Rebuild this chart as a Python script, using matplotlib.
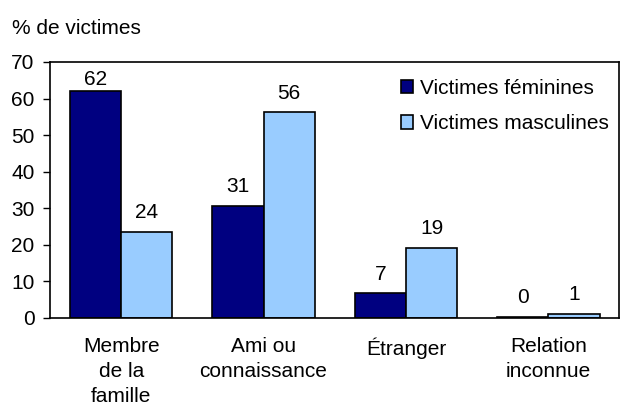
import numpy as np
import matplotlib.pyplot as plt
from matplotlib.patches import Patch

plt.rcParams['font.family'] = ['Liberation Sans', 'DejaVu Sans']

categories = ["Membre\nde la\nfamille", "Ami ou\nconnaissance", "Étranger", "Relation\ninconnue"]
feminines = [62.2, 30.6, 6.7, 0.4]
masculines = [23.6, 56.2, 19.2, 1.1]
series_names = ["Victimes féminines", "Victimes masculines"]
colors = ["#000080", "#99CCFF"]

fontsize = 15

fig = plt.figure(figsize=(6.21, 4.11), dpi=100)
ax = fig.add_axes([0.0805, 0.2263, 0.917, 0.6229])

x = np.arange(len(categories))
width = 0.36

bars_f = ax.bar(x - width / 2, feminines, width, color=colors[0], edgecolor='black', linewidth=1.2)
bars_m = ax.bar(x + width / 2, masculines, width, color=colors[1], edgecolor='black', linewidth=1.2)

# value labels sit above the bars but stay inside the frame
for bars, vals in [(bars_f, feminines), (bars_m, masculines)]:
    for b, v in zip(bars, vals):
        ax.text(b.get_x() + b.get_width() / 2, min(v + 3.8, 63.7), f"{round(v):d}",
                ha='center', va='baseline', fontsize=fontsize)

ax.set_xlim(-0.5, 3.5)
ax.set_ylim(0, 70)
ax.set_yticks(range(0, 71, 10))
ax.set_xticks(x)
ax.set_xticklabels(categories, fontsize=fontsize, linespacing=1.38)
ax.tick_params(axis='x', length=0, pad=14)
ax.tick_params(axis='y', length=5, width=1, labelsize=fontsize, pad=6)
for s in ax.spines.values():
    s.set_linewidth(1.2)

fig.text(12 / 621, 1 - 28 / 411, "% de victimes", fontsize=fontsize, ha='left', va='center')

handles = [Patch(facecolor=c, edgecolor='black', linewidth=1.2, label=n) for c, n in zip(colors, series_names)]
ax.legend(handles=handles, loc='upper right', bbox_to_anchor=(1.01, 1.0), frameon=False,
          fontsize=fontsize, handlelength=0.6, handleheight=0.6, handletextpad=0.3,
          labelspacing=0.8, borderaxespad=0.4)

fig.savefig("out.png", dpi=100)
